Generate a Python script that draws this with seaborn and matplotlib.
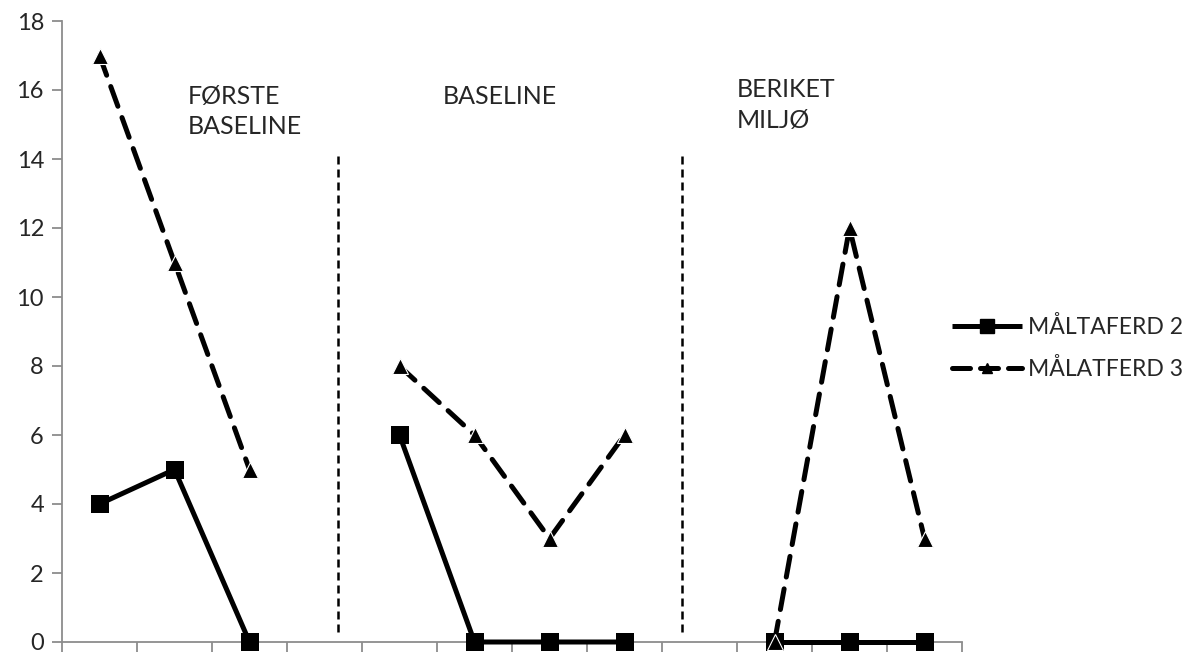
import numpy as np
import pandas as pd
import matplotlib
matplotlib.use("Agg")
import matplotlib.pyplot as plt
from matplotlib.lines import Line2D
import seaborn as sns

# data: 12 maalinger, NaN = pause mellom fasene
maaling = list(range(12))
maltaferd2 = [4, 5, 0, np.nan, 6, 0, 0, 0, np.nan, 0, 0, 0]
malatferd3 = [17, 11, 5, np.nan, 8, 6, 3, 6, np.nan, 0, 12, 3]
serie_navn = ["MÅLTAFERD 2", "MÅLATFERD 3"]

fase_tekst = ["FØRSTE\nBASELINE", "BASELINE", "BERIKET\nMILJØ"]
fase_x = [1.18, 4.58, 8.50]
fase_y = [16.15, 16.15, 16.35]
skille_x = [3.18, 7.77]

sns.set_theme(style="white")
plt.rcParams["font.family"] = ["Lato", "DejaVu Sans"]

fig = plt.figure(figsize=(11.92, 6.53), dpi=100)
ax = fig.add_axes([62 / 1192, 11 / 653, 900 / 1192, 621 / 653])

df = pd.DataFrame({"x": maaling, "m2": maltaferd2, "m3": malatferd3})
df["seg"] = df["m3"].isna().cumsum()

stil = {
    "m2": dict(marker="s", markersize=13, linestyle="-", zorder=3,
               markeredgewidth=0),
    "m3": dict(marker="^", markersize=11, dashes=(4.2, 2.4), zorder=4,
               markeredgecolor="white", markeredgewidth=0.8),
}

for kol in ["m2", "m3"]:
    for _, d in df.dropna(subset=[kol]).groupby("seg"):
        sns.lineplot(data=d, x="x", y=kol, ax=ax, color="black", lw=3.6,
                     markerfacecolor="black", dash_capstyle="round",
                     solid_capstyle="butt", legend=False, clip_on=False,
                     **stil[kol])

# fase-skiller
for sx in skille_x:
    ax.plot([sx, sx], [0.3, 14.1], color="black", lw=1.8, dashes=(3.2, 2.0))

for t, tx, ty in zip(fase_tekst, fase_x, fase_y):
    ax.text(tx, ty, t, fontsize=18, va="top", ha="left", linespacing=1.4)

ax.set_xlim(-0.5, 11.5)
ax.set_ylim(0, 18)
ax.set_xticks(np.arange(-0.5, 12, 1))
ax.set_xticklabels([])
ax.set_yticks(range(0, 19, 2))
ax.set_xlabel("")
ax.set_ylabel("")
ax.tick_params(axis="y", labelsize=17, length=7, width=1.3, color="#8c8c8c",
               left=True, pad=6)
ax.tick_params(axis="x", length=7, width=1.3, color="#8c8c8c", bottom=True)
for s in ["top", "right"]:
    ax.spines[s].set_visible(False)
for s in ["left", "bottom"]:
    ax.spines[s].set_color("#8c8c8c")
    ax.spines[s].set_linewidth(1.3)

handles = [
    Line2D([], [], color="black", lw=3.6, marker="s", markersize=9.5,
           solid_capstyle="butt"),
    Line2D([], [], color="black", lw=3.6, marker="^", markersize=7.5,
           dashes=(3.6, 2.0), dash_capstyle="round"),
]
fig.legend(handles, serie_navn, loc="center left",
           bbox_to_anchor=(952 / 1192, 1 - 348 / 653), frameon=False,
           fontsize=16.5, handlelength=3.05, handletextpad=0.26,
           labelspacing=0.85, borderpad=0, borderaxespad=0)

fig.savefig("out.png", dpi=100)
